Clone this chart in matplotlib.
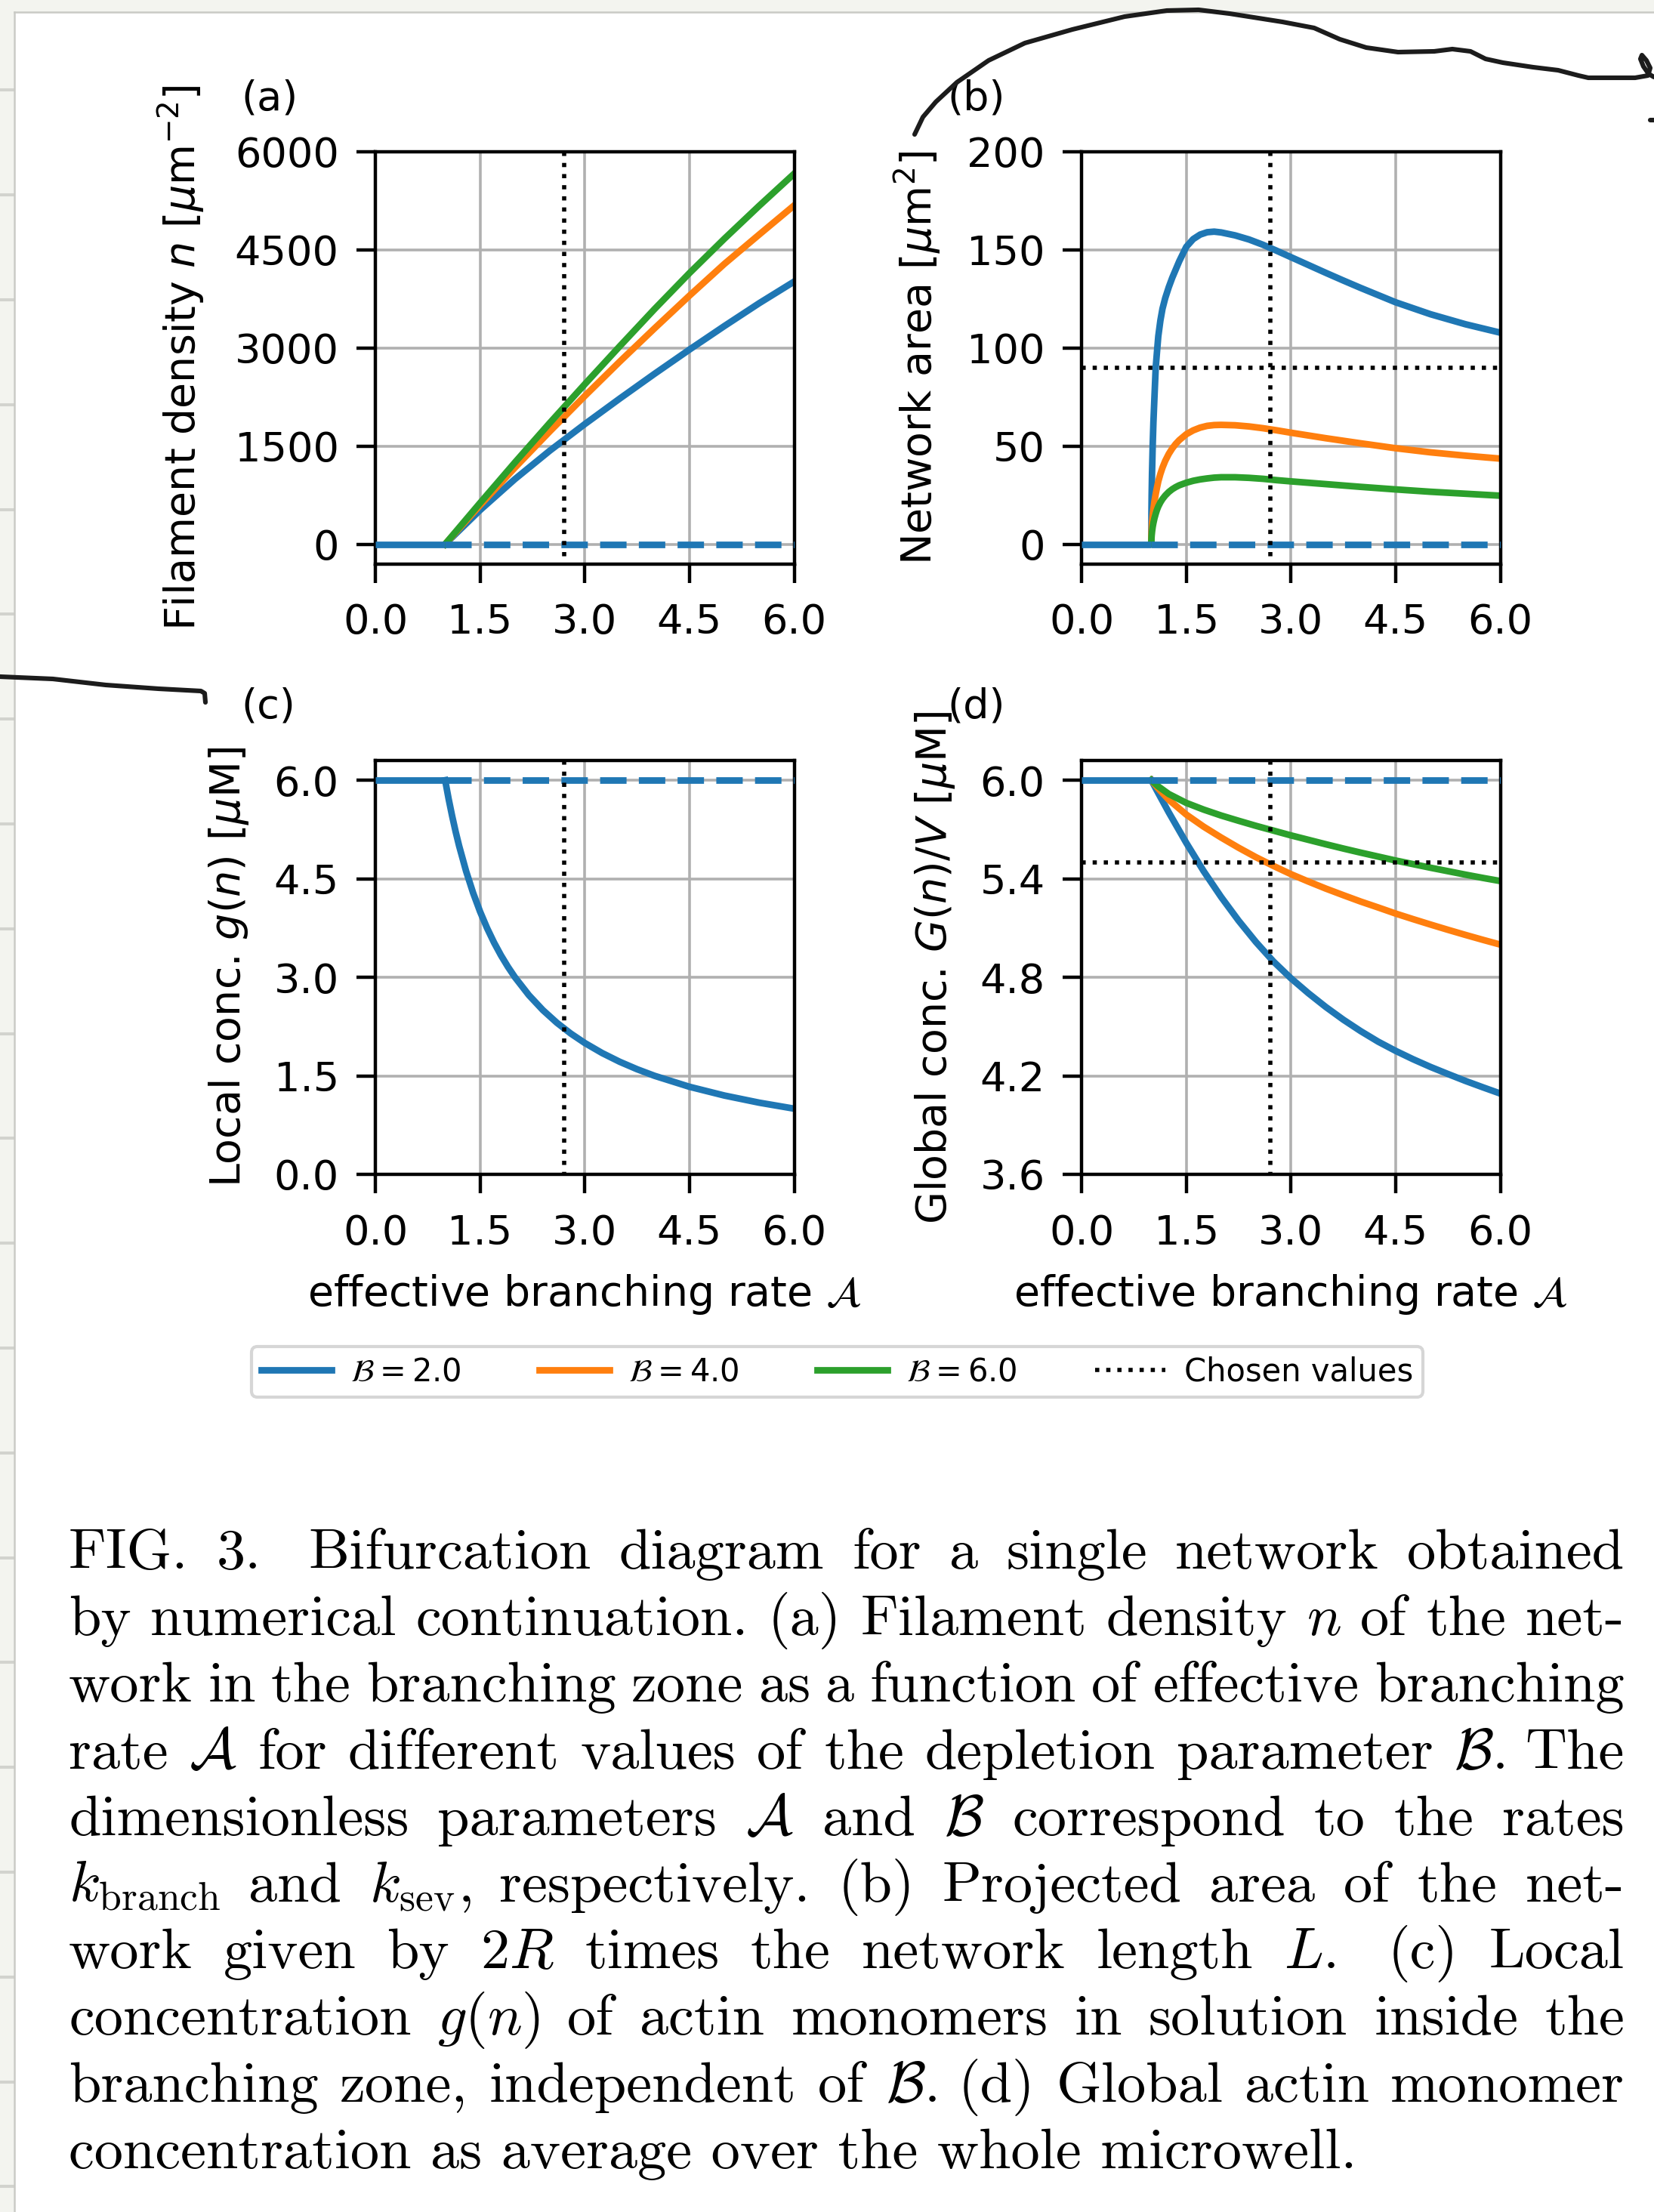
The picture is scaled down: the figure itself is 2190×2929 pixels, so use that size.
import numpy as np
import matplotlib
matplotlib.use("Agg")
import matplotlib.pyplot as plt
from matplotlib.lines import Line2D
from matplotlib.patches import Rectangle

# ------------------------------------------------------------------ data
A_CHOSEN = 2.7          # chosen effective branching rate (dotted vertical)
AREA_CHOSEN = 90.0      # chosen network area (dotted horizontal, panel b)
GLOBAL_CHOSEN = 5.5     # chosen global concentration (dotted horizontal, panel d)
G0 = 6.0                # monomer concentration on the trivial branch

SERIES_LABELS = [r"$\mathcal{B} = 2.0$", r"$\mathcal{B} = 4.0$", r"$\mathcal{B} = 6.0$"]
CHOSEN_LABEL = "Chosen values"

# trivial (n = 0) branch: stable for A < 1, unstable for A > 1
A_trivial_stable = [0.0, 1.0]
A_trivial_unstable = [1.0, 6.0]

# (a) filament density n
A_n = [1.0, 1.5, 2.0, 2.5, 3.0, 3.5, 4.0, 4.5, 5.0, 5.5, 6.0]
n_B2 = [0, 520, 995, 1430, 1835, 2225, 2605, 2975, 3335, 3685, 4015]
n_B4 = [0, 595, 1170, 1725, 2265, 2790, 3300, 3800, 4285, 4735, 5180]
n_B6 = [0, 630, 1250, 1855, 2445, 3025, 3595, 4145, 4670, 5175, 5665]

# (b) network area
A_area = [1.0, 1.002, 1.005, 1.01, 1.02, 1.03, 1.045, 1.063, 1.08, 1.1, 1.13, 1.16, 1.2,
          1.25, 1.3, 1.35, 1.4, 1.5, 1.6, 1.7, 1.8, 1.9, 2.0, 2.2, 2.4, 2.6, 2.8, 3.0,
          3.25, 3.5, 3.75, 4.0, 4.5, 5.0, 5.5, 6.0]
area_B2 = [0, 16, 25.3, 35.8, 50.6, 62, 75, 90, 97.5, 106, 114, 120, 125.5,
           131, 135.8, 140, 144.2, 151.5, 155.5, 157.8, 159.0, 159.3, 158.9, 157.4, 155.3,
           152.6, 149.5, 146.3, 142.3, 138.3, 134.4, 130.6, 123.3, 117.2, 112.1, 107.8]
area_B4 = [0, 4.6, 7.3, 10.3, 14.6, 17.8, 21.8, 25.5, 28.6, 32.0, 35.8, 39.0, 42.5,
           46.0, 48.8, 51.1, 53.0, 56.0, 58.0, 59.4, 60.3, 60.7, 60.8, 60.6, 60.0,
           59.1, 58.0, 56.8, 55.4, 54.0, 52.7, 51.4, 48.9, 46.8, 45.1, 43.6]
area_B6 = [0, 2.8, 4.4, 6.3, 8.9, 10.8, 13.2, 15.5, 17.4, 19.2, 21.3, 23.0, 24.8,
           26.6, 28.0, 29.1, 30.0, 31.3, 32.3, 33.0, 33.5, 33.9, 34.1, 34.1, 33.8,
           33.3, 32.6, 32.0, 31.3, 30.6, 29.9, 29.2, 27.9, 26.7, 25.7, 24.7]

# (c) local concentration g(n)
A_g = [1.0, 1.05, 1.1, 1.15, 1.2, 1.3, 1.4, 1.5, 1.6, 1.7, 1.8, 1.9, 2.0, 2.2, 2.4,
       2.6, 2.8, 3.0, 3.25, 3.5, 3.75, 4.0, 4.5, 5.0, 5.5, 6.0]
g_local = [6.0, 5.714, 5.455, 5.217, 5.0, 4.615, 4.286, 4.0, 3.75, 3.529, 3.333, 3.158,
           3.0, 2.727, 2.5, 2.308, 2.143, 2.0, 1.846, 1.714, 1.6, 1.5, 1.333, 1.2,
           1.091, 1.0]

# (d) global concentration G(n)/V
A_G = [1.0, 1.1, 1.25, 1.5, 1.75, 2.0, 2.25, 2.5, 2.75, 3.0, 3.25, 3.5, 3.75, 4.0,
       4.25, 4.5, 4.75, 5.0, 5.25, 5.5, 5.75, 6.0]
G_B2 = [6.000, 5.921, 5.804, 5.619, 5.446, 5.289, 5.145, 5.014, 4.896, 4.794, 4.703,
        4.619, 4.542, 4.472, 4.408, 4.352, 4.301, 4.254, 4.211, 4.169, 4.130, 4.092]
G_B4 = [6.000, 5.949, 5.881, 5.791, 5.717, 5.651, 5.589, 5.531, 5.478, 5.428, 5.383,
        5.340, 5.300, 5.261, 5.225, 5.188, 5.154, 5.121, 5.089, 5.058, 5.028, 4.999]
G_B6 = [6.000, 5.962, 5.916, 5.862, 5.821, 5.785, 5.753, 5.722, 5.693, 5.664, 5.637,
        5.610, 5.584, 5.559, 5.535, 5.511, 5.489, 5.467, 5.446, 5.425, 5.405, 5.386]

X_TICKS = [0.0, 1.5, 3.0, 4.5, 6.0]
YTICKS_A = [0, 1500, 3000, 4500, 6000]
YTICKS_B = [0, 50, 100, 150, 200]
YTICKS_C = [0.0, 1.5, 3.0, 4.5, 6.0]
YTICKS_D = [3.6, 4.2, 4.8, 5.4, 6.0]

YLABELS = [r"Filament density $n$ [$\mu$m$^{-2}$]",
           r"Network area [$\mu$m$^2$]",
           r"Local conc. $g(n)$ [$\mu$M]",
           r"Global conc. $G(n)/V$ [$\mu$M]"]
XLABEL = r"effective branching rate $\mathcal{A}$"
PANEL_TAGS = ["(a)", "(b)", "(c)", "(d)"]

CAPTION_LINES = [
    r"FIG. 3.  Bifurcation diagram for a single network obtained",
    r"by numerical continuation. (a) Filament density $n$ of the net-",
    r"work in the branching zone as a function of effective branching",
    r"rate $\mathcal{A}$ for different values of the depletion parameter $\mathcal{B}$. The",
    r"dimensionless parameters $\mathcal{A}$ and $\mathcal{B}$ correspond to the rates",
    r"$k_\mathrm{branch}$ and $k_\mathrm{sev}$, respectively. (b) Projected area of the net-",
    r"work given by $2R$ times the network length $L$.  (c) Local",
    r"concentration $g(n)$ of actin monomers in solution inside the",
    r"branching zone, independent of $\mathcal{B}$. (d) Global actin monomer",
    r"concentration as average over the whole microwell.",
]

# hand-drawn pen strokes on the screenshot (pixel coordinates)
STROKE_TOP = [(1211, 178), (1222, 155), (1239, 135), (1267, 109), (1309, 80), (1357, 57),
              (1420, 39), (1489, 22), (1545, 14), (1587, 13), (1628, 18), (1698, 29),
              (1740, 37), (1774, 52), (1809, 63), (1851, 69), (1899, 68), (1923, 65),
              (1947, 68), (1967, 78), (1990, 83), (2030, 89), (2063, 93), (2090, 100),
              (2103, 103), (2130, 103), (2165, 103), (2182, 100), (2185, 90), (2180, 80),
              (2174, 73), (2172, 78), (2176, 88), (2183, 98), (2190, 102)]
STROKE_LEFT = [(0, 896), (70, 899), (140, 907), (210, 912), (266, 915), (271, 918), (272, 930)]
STROKE_DOT = [(2185, 159), (2190, 159)]

# ------------------------------------------------------------------ style
W, H, DPI = 2190, 2929, 100
COLORS = ["#1f77b4", "#ff7f0e", "#2ca02c"]
LW = 6.3
DASH = (0, (4.0, 1.86))
FS = 39
FS_LABEL = 40

plt.rcParams.update({
    "font.family": ["DejaVu Sans"],
    "font.size": FS,
    "axes.linewidth": 3.2,
    "xtick.major.size": 17.7, "ytick.major.size": 17.7,
    "xtick.major.width": 3.2, "ytick.major.width": 3.2,
    "xtick.major.pad": 19.5, "ytick.major.pad": 17,
    "xtick.labelsize": FS, "ytick.labelsize": FS,
    "axes.labelsize": FS_LABEL,
})

fig = plt.figure(figsize=(W / DPI, H / DPI), dpi=DPI, facecolor="white")


def fx(px):
    return px / W


def fy(py):
    return 1 - py / H


# ---- screenshot background (grey margin, notebook lines, page border)
bg = "#f3f4ef"
fig.add_artist(Rectangle((0, fy(16)), 1, 16 / H, transform=fig.transFigure,
                         facecolor=bg, edgecolor="none", zorder=0))
fig.add_artist(Rectangle((0, 0), 18 / W, 1, transform=fig.transFigure,
                         facecolor=bg, edgecolor="none", zorder=0))
for k in range(21):
    yy = 119.4 + k * 138.8
    fig.add_artist(Line2D([0, fx(18)], [fy(yy), fy(yy)], transform=fig.transFigure,
                          color="#d2d3ce", lw=2.9, zorder=1))
fig.add_artist(Line2D([fx(19), fx(19)], [0, fy(16)], transform=fig.transFigure,
                      color="#c9cac5", lw=1.8, zorder=1))
fig.add_artist(Line2D([fx(19), 1], [fy(16), fy(16)], transform=fig.transFigure,
                      color="#c9cac5", lw=1.8, zorder=1))

# ---- axes
boxes = {
    "a": (497, 201, 1051.5, 746.5),
    "b": (1432, 201, 1986.5, 746.5),
    "c": (497, 1007, 1051.5, 1555),
    "d": (1432, 1007, 1986.5, 1555),
}
axes = {}
for key, (l, t, r, b) in boxes.items():
    axes[key] = fig.add_axes([fx(l), fy(b), (r - l) / W, (b - t) / H])


def style(ax, yticks, ylabels, ylim, ylabel, label_x, tag, xlabel=False):
    ax.set_xlim(0, 6)
    ax.set_ylim(*ylim)
    ax.set_xticks(X_TICKS)
    ax.set_xticklabels([f"{v:.1f}" for v in X_TICKS])
    ax.set_yticks(yticks)
    ax.set_yticklabels(ylabels)
    ax.grid(True, color="#b0b0b0", lw=2.6)
    ax.set_axisbelow(True)
    ax.set_ylabel(ylabel)
    ax.yaxis.set_label_coords(label_x, 0.5)
    if xlabel:
        ax.set_xlabel(XLABEL)
        ax.xaxis.set_label_coords(0.5, -0.237)
    ax.text(-0.32, 1.13, tag, transform=ax.transAxes, ha="left", va="center", fontsize=FS)


def chosen_vertical(ax):
    ax.plot([A_CHOSEN, A_CHOSEN], [1, 0], transform=ax.get_xaxis_transform(),
            color="black", ls=":", lw=4, zorder=4)


def trivial(ax, level):
    ax.plot(A_trivial_stable, [level, level], color=COLORS[0], lw=LW, zorder=3,
            solid_capstyle="butt")
    ax.plot(A_trivial_unstable, [level, level], color=COLORS[0], lw=LW, ls=DASH, zorder=3)


# (a)
ax = axes["a"]
for y, c in zip([n_B2, n_B4, n_B6], COLORS):
    ax.plot(A_n, y, color=c, lw=LW, zorder=2)
trivial(ax, 0.0)
chosen_vertical(ax)
style(ax, YTICKS_A, [str(v) for v in YTICKS_A], (-300, 6000), YLABELS[0], -0.402, PANEL_TAGS[0])

# (b)
ax = axes["b"]
for y, c in zip([area_B2, area_B4, area_B6], COLORS):
    ax.plot(A_area, y, color=c, lw=LW, zorder=2)
trivial(ax, 0.0)
chosen_vertical(ax)
ax.axhline(AREA_CHOSEN, color="black", ls=":", lw=4, zorder=4)
style(ax, YTICKS_B, [str(v) for v in YTICKS_B], (-10, 200), YLABELS[1], -0.330, PANEL_TAGS[1])

# (c)
ax = axes["c"]
ax.plot(A_g, g_local, color=COLORS[0], lw=LW, zorder=2)
trivial(ax, G0)
chosen_vertical(ax)
style(ax, YTICKS_C, [f"{v:.1f}" for v in YTICKS_C], (0, 6.3), YLABELS[2], -0.2976,
      PANEL_TAGS[2], xlabel=True)

# (d)
ax = axes["d"]
for y, c in zip([G_B2, G_B4, G_B6], COLORS):
    ax.plot(A_G, y, color=c, lw=LW, zorder=2)
trivial(ax, G0)
chosen_vertical(ax)
ax.axhline(GLOBAL_CHOSEN, color="black", ls=":", lw=4, zorder=4)
style(ax, YTICKS_D, [f"{v:.1f}" for v in YTICKS_D], (3.6, 6.12), YLABELS[3], -0.2976,
      PANEL_TAGS[3], xlabel=True)

# ---- legend
handles = [Line2D([], [], color=c, lw=LW) for c in COLORS]
handles.append(Line2D([], [], color="black", ls=":", lw=4))
leg = fig.legend(handles, SERIES_LABELS + [CHOSEN_LABEL], loc="center",
                 bbox_to_anchor=(fx(333), fy(1854), 1551 / W, 75 / H), mode="expand",
                 ncol=4, fontsize=30, handlelength=2.24, handletextpad=0.6,
                 borderpad=0.3, borderaxespad=0, fancybox=True, framealpha=0.8,
                 edgecolor="0.8")
leg.get_frame().set_linewidth(3.0)

# ---- hand-drawn strokes
for stroke, lw in [(STROKE_TOP, 4.4), (STROKE_LEFT, 4.4), (STROKE_DOT, 4.4)]:
    xs = [fx(p[0]) for p in stroke]
    ys = [fy(p[1]) for p in stroke]
    fig.add_artist(Line2D(xs, ys, transform=fig.transFigure, color="#1c1c1c", lw=lw,
                          solid_capstyle="round", solid_joinstyle="round", zorder=10))

# ---- caption (justified, Computer Modern)
CAP_X0, CAP_X1 = 91, 2151
CAP_Y0, CAP_DY = 2077, 88.2
CAP_FS = 55
renderer = fig.canvas.get_renderer()
cap_kw = dict(fontsize=CAP_FS, family="cmr10", math_fontfamily="cm", va="baseline", ha="left")
for i, line in enumerate(CAPTION_LINES):
    ypix = CAP_Y0 + i * CAP_DY
    if i == len(CAPTION_LINES) - 1:
        fig.text(fx(CAP_X0), fy(ypix), line, **cap_kw)
        continue
    words, weights = [], []
    for tok in line.split(" "):
        if tok == "":
            weights[-1] += 0.7
        else:
            words.append(tok)
            weights.append(1)
    weights = weights[:-1]
    arts, widths = [], []
    for wd in words:
        t = fig.text(0, fy(ypix), wd, **cap_kw)
        bb = t.get_window_extent(renderer)
        arts.append(t)
        widths.append(bb.width)
    gap = (CAP_X1 - CAP_X0 - sum(widths)) / sum(weights)
    xpos = CAP_X0
    for j, t in enumerate(arts):
        t.set_x(fx(xpos))
        if j < len(weights):
            xpos += widths[j] + gap * weights[j]

fig.savefig("out.png", dpi=DPI, facecolor="white")
